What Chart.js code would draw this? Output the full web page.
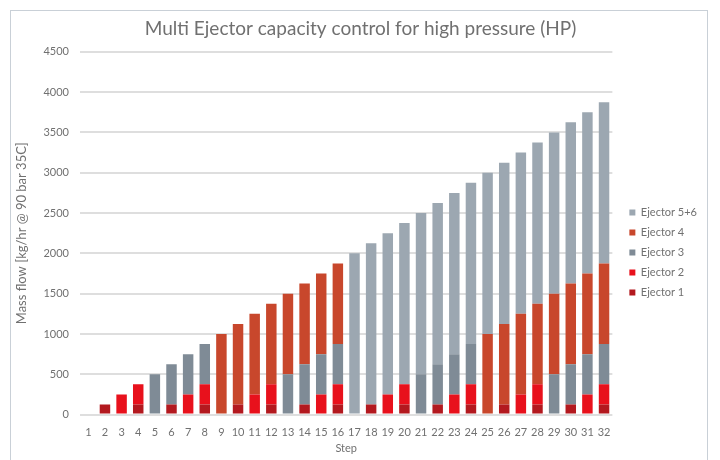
<!DOCTYPE html>
<html>
<head>
<meta charset="utf-8">
<script src="https://cdn.jsdelivr.net/npm/chart.js@4"></script>
<style>
  body { margin: 0; background: #fff; }
  #frame { position: absolute; left: 10px; top: 10px; width: 696px; height: 470px; border: 1px solid #c9d0d7; }
  #wrap { position: absolute; left: 0; top: 0; width: 720px; height: 460px; }
</style>
</head>
<body>
<div id="frame"></div>
<div id="wrap"><canvas id="ejectorChart"></canvas></div>
<script>
        // Chart data
        const steps = ['1','2','3','4','5','6','7','8','9','10','11','12','13','14','15','16',
                       '17','18','19','20','21','22','23','24','25','26','27','28','29','30','31','32'];
        const ejector1 = [0,125,0,125,0,125,0,125,0,125,0,125,0,125,0,125,
                          0,125,0,125,0,125,0,125,0,125,0,125,0,125,0,125];
        const ejector2 = [0,0,250,250,0,0,250,250,0,0,250,250,0,0,250,250,
                          0,0,250,250,0,0,250,250,0,0,250,250,0,0,250,250];
        const ejector3 = [0,0,0,0,500,500,500,500,0,0,0,0,500,500,500,500,
                          0,0,0,0,500,500,500,500,0,0,0,0,500,500,500,500];
        const ejector4 = [0,0,0,0,0,0,0,0,1000,1000,1000,1000,1000,1000,1000,1000,
                          0,0,0,0,0,0,0,0,1000,1000,1000,1000,1000,1000,1000,1000];
        const ejector56 = [0,0,0,0,0,0,0,0,0,0,0,0,0,0,0,0,
                           2000,2000,2000,2000,2000,2000,2000,2000,2000,2000,2000,2000,2000,2000,2000,2000];

        const textColor = '#707070';
        const fontFamily = 'Lato, "Open Sans", sans-serif';

        const ctx = document.getElementById('ejectorChart').getContext('2d');
        const ejectorChart = new Chart(ctx, {
            type: 'bar',
            data: {
                labels: steps,
                datasets: [
                    { label: 'Ejector 1', data: ejector1, backgroundColor: '#b3191f' },
                    { label: 'Ejector 2', data: ejector2, backgroundColor: '#e8111c' },
                    { label: 'Ejector 3', data: ejector3, backgroundColor: '#7f8b96' },
                    { label: 'Ejector 4', data: ejector4, backgroundColor: '#c8472c' },
                    { label: 'Ejector 5+6', data: ejector56, backgroundColor: '#9ca7b1' }
                ]
            },
            options: {
                responsive: true,
                maintainAspectRatio: false,
                animation: false,
                datasets: {
                    bar: { categoryPercentage: 1, barPercentage: 0.63 }
                },
                layout: {
                    padding: { left: 14, right: 13, top: 0, bottom: 5 }
                },
                scales: {
                    x: {
                        stacked: true,
                        // invisible tick marks just to space the labels below the plot
                        grid: { display: true, drawOnChartArea: false, drawTicks: true, tickLength: 8, color: 'rgba(0,0,0,0)' },
                        border: { display: false },
                        ticks: { color: textColor, font: { family: fontFamily, size: 11 }, padding: 3, maxRotation: 0, autoSkip: false },
                        title: { display: true, text: 'Step', color: textColor, font: { family: fontFamily, size: 11 }, padding: 0 }
                    },
                    y: {
                        stacked: true,
                        min: 0,
                        max: 4500,
                        afterFit: function(scale) { scale.width = 66; },
                        grid: { color: '#dedede', lineWidth: 2, drawTicks: false },
                        border: { display: false },
                        ticks: {
                            stepSize: 500,
                            color: textColor,
                            font: { family: fontFamily, size: 11 },
                            padding: 11,
                            callback: function(value) { return String(value); }
                        },
                        title: { display: true, text: 'Mass flow [kg/hr @ 90 bar 35C]', color: textColor, font: { family: fontFamily, size: 13 }, padding: 0 }
                    },
                    // spacer between plot and legend
                    gap: {
                        position: 'right',
                        display: true,
                        grid: { display: false },
                        border: { display: false },
                        ticks: { display: false },
                        afterFit: function(scale) { scale.width = 8; }
                    }
                },
                plugins: {
                    title: {
                        display: true,
                        text: 'Multi Ejector capacity control for high pressure (HP)',
                        color: textColor,
                        font: { family: fontFamily, size: 19, weight: 'normal' },
                        padding: { top: 17, bottom: 12 }
                    },
                    legend: {
                        position: 'right',
                        reverse: true,
                        title: { display: true, text: '', font: { size: 10 }, padding: { top: 38, bottom: 0 } },
                        labels: {
                            color: textColor,
                            font: { family: fontFamily, size: 11 },
                            boxWidth: 6,
                            boxHeight: 6,
                            padding: 9
                        }
                    },
                    tooltip: { enabled: false }
                }
            }
        });
</script>
</body>
</html>
